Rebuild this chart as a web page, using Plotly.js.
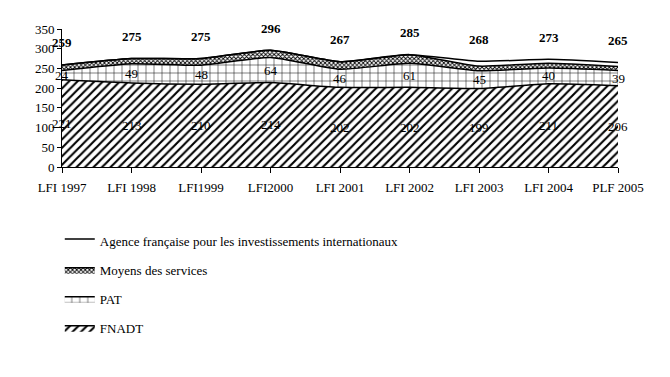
<!DOCTYPE html>
<html><head><meta charset="utf-8">
<script src="https://cdn.plot.ly/plotly-3.0.1.min.js"></script>
<style>html,body{margin:0;padding:0;background:#fff}#c{width:670px;height:377px}</style>
</head><body><div id="c"></div>
<script>
const categories = ['LFI 1997','LFI 1998','LFI1999','LFI2000','LFI 2001','LFI 2002','LFI 2003','LFI 2004','PLF 2005'];
const fnadt  = [221,213,210,214,202,202,199,211,206];
const pat    = [24,49,48,64,46,61,45,40,39];
const moyens = [14,13,17,18,19,22,12,12,10];
const agence = [0,0,0,0,0,0,12,10,10];
const totals = [259,275,275,296,267,285,268,273,265];

const xs = categories.map((c,i)=>i);
const F = 'Liberation Serif, Times New Roman, serif';
const line = {color:'#000', width:1.5, shape:'spline', smoothing:0.5};

function area(name, y, pattern, grp, rank){
  return {x:xs, y:y, name:name, type:'scatter', mode:'lines', stackgroup:'s',
    line:line, fillcolor:'#fff', legendgroup:grp, legendrank:rank,
    fillpattern:pattern, hoverinfo:'skip'};
}
const traces = [
  area('FNADT', fnadt, {shape:'/', fgcolor:'#000', bgcolor:'#fff', size:6, solidity:0.35}, 'g1', 4),
  area('PAT', pat, {shape:'+', fgcolor:'#000', bgcolor:'#fff', size:8, solidity:0.12}, 'g2', 3),
  area('Moyens des services', moyens, {shape:'x', fgcolor:'#000', bgcolor:'#fff', size:3, solidity:0.5}, 'g3', 2),
  area('Agence française pour les investissements internationaux', agence, {shape:'', bgcolor:'#fff'}, 'g4', 1)
];

const ann = [];
xs.forEach(i=>{
  ann.push({x:i, y:fnadt[i]/2, text:String(fnadt[i]), showarrow:false, font:{family:F,size:13,color:'#000'}});
  ann.push({x:i, y:fnadt[i]+pat[i]/2, text:String(pat[i]), showarrow:false, font:{family:F,size:13,color:'#000'}});
  ann.push({x:i, y:totals[i], yshift:22, text:'<b>'+totals[i]+'</b>', showarrow:false, font:{family:F,size:13,color:'#000'}});
});

const layout = {
  width:670, height:377,
  margin:{l:62, r:52, t:29, b:210},
  paper_bgcolor:'#fff', plot_bgcolor:'#fff',
  font:{family:F, size:13, color:'#000'},
  showlegend:true,
  legend:{x:-0.004, xanchor:'left', y:-0.4275, yanchor:'top', traceorder:'grouped',
    tracegroupgap:9, font:{family:F,size:13,color:'#000'}, itemwidth:30, bgcolor:'rgba(0,0,0,0)'},
  xaxis:{range:[0,8], tickvals:xs, ticktext:categories, showgrid:false, zeroline:false,
    showline:true, linecolor:'#000', linewidth:1, ticks:'outside', ticklen:5, tickcolor:'#000',
    ticklabelstandoff:3,
    tickfont:{family:F,size:13,color:'#000'}, fixedrange:true},
  yaxis:{range:[0,350], dtick:50, showgrid:false, zeroline:false,
    showline:true, linecolor:'#000', linewidth:1, ticks:'outside', ticklen:4, tickcolor:'#000',
    tickfont:{family:F,size:13,color:'#000'}, fixedrange:true},
  annotations:ann
};
Plotly.newPlot('c', traces, layout, {displayModeBar:false, staticPlot:true});
</script></body></html>
